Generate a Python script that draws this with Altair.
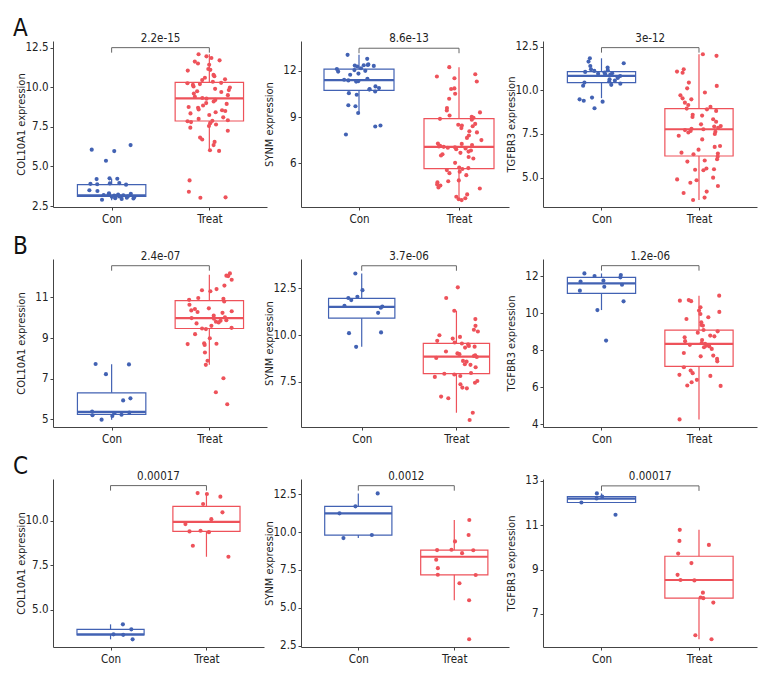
import altair as alt
import pandas as pd

FONT = "DejaVu Sans Condensed, Liberation Sans Narrow, sans-serif"
BLUE_PT, RED_PT = "#23469c", "#e8202a"
BLUE_LN, RED_LN = "#4262b3", "#ee525a"

GROUPS = ["Con", "Treat"]
GENES = ["COL10A1", "SYNM", "TGFBR3"]
LETTERS = ["A", "B", "C"]

# ---------------- Dataset A ----------------
A_COL10A1_con = [6.35, 6.06, 5.97, 5.36, 4.25, 4.22, 4.2, 3.95, 3.93, 3.9, 3.88, 3.85, 3.5, 3.45, 3.3, 3.28,
                 3.25, 3.22, 3.2, 3.18, 3.17, 3.15, 3.13, 3.12, 3.1, 3.08, 3.05, 3.02, 3.0, 2.98, 2.95, 2.9]
A_COL10A1_treat = [12.08, 11.95, 11.85, 11.7, 11.62, 11.5, 11.42, 11.15, 11.1, 11.05, 10.78, 10.7, 10.6, 10.5,
                   10.45, 10.35, 10.28, 10.25, 10.2, 10.15, 10.05, 9.98, 9.9, 9.82, 9.75, 9.7, 9.6, 9.5, 9.4,
                   9.32, 9.28, 9.2, 9.1, 9.0, 8.95, 8.85, 8.75, 8.7, 8.6, 8.55, 8.5, 8.42, 8.35, 8.25, 8.1, 8.0,
                   7.92, 7.88, 7.85, 7.8, 7.72, 7.65, 7.55, 7.45, 7.25, 6.82, 6.7, 6.55, 6.35, 6.02, 5.98, 4.12,
                   3.4, 3.05, 3.02]
A_SYNM_con = [13.04, 12.78, 12.42, 12.38, 12.36, 12.34, 12.32, 12.28, 12.17, 12.12, 12.05, 12.0, 11.95, 11.82,
              11.75, 11.48, 11.42, 11.38, 11.32, 11.3, 10.99, 10.88, 10.82, 10.78, 10.66, 10.55, 10.45, 9.76,
              9.7, 9.26, 8.45, 8.38, 7.86]
A_SYNM_treat = [12.24, 11.78, 11.63, 11.52, 11.31, 10.86, 10.82, 10.51, 10.19, 9.58, 9.42, 9.3, 9.1, 9.02, 8.95,
                8.88, 8.82, 8.55, 8.5, 8.45, 8.4, 8.28, 8.07, 8.0, 7.8, 7.64, 7.5, 7.28, 7.25, 7.18, 7.12, 7.08,
                7.06, 7.03, 7.0, 6.95, 6.9, 6.82, 6.75, 6.67, 6.58, 6.5, 6.4, 6.3, 6.02, 5.72, 5.68, 5.62, 5.55,
                5.44, 5.35, 5.22, 4.88, 4.82, 4.75, 4.62, 4.55, 4.42, 4.35, 3.97, 3.82, 3.72, 3.65, 3.6]
A_TGFBR3_con = [11.83, 11.64, 11.55, 11.39, 11.3, 11.2, 11.15, 11.11, 11.05, 11.02, 10.98, 10.95, 10.92, 10.88,
                10.82, 10.75, 10.7, 10.63, 10.55, 10.5, 10.44, 10.38, 10.31, 10.26, 9.58, 9.48, 9.4, 9.35, 8.97]
A_TGFBR3_treat = [12.06, 11.97, 11.2, 11.07, 11.0, 10.44, 10.25, 10.11, 9.87, 9.71, 9.54, 9.48, 9.29, 9.16, 9.05,
                  8.95, 8.91, 8.82, 8.6, 8.55, 8.47, 8.34, 8.2, 8.05, 7.95, 7.92, 7.85, 7.8, 7.77, 7.72, 7.67,
                  7.62, 7.58, 7.5, 7.4, 7.19, 6.81, 6.76, 6.6, 6.43, 6.38, 6.34, 6.2, 6.05, 5.98, 5.92, 5.52,
                  5.48, 5.45, 5.42, 5.0, 4.9, 4.85, 4.71, 4.52, 4.2, 4.12, 3.86, 3.72]

# ---------------- Dataset B ----------------
B_COL10A1_con = [7.72, 7.7, 7.22, 6.03, 5.93, 5.38, 5.33, 5.3, 5.22, 5.2, 5.16, 4.98]
B_COL10A1_treat = [12.18, 12.07, 12.05, 11.87, 11.58, 11.41, 11.35, 11.3, 10.97, 10.93, 10.88, 10.8, 10.64,
                   10.46, 10.43, 10.36, 10.32, 10.28, 10.24, 10.1, 10.02, 9.98, 9.95, 9.88, 9.85, 9.8, 9.77,
                   9.72, 9.6, 9.5, 9.47, 9.44, 9.19, 8.99, 8.74, 8.72, 8.7, 8.66, 8.29, 7.88, 7.68, 7.02,
                   6.33, 5.74]
B_SYNM_con = [13.28, 12.39, 12.04, 11.97, 11.86, 11.56, 11.52, 11.45, 11.18, 10.14, 10.1, 9.37]
B_SYNM_treat = [12.54, 11.97, 11.29, 10.85, 10.49, 10.28, 10.19, 9.99, 9.9, 9.81, 9.69, 9.6, 9.55, 9.5, 9.42,
                9.38, 9.33, 9.12, 9.02, 8.98, 8.92, 8.88, 8.83, 8.78, 8.62, 8.58, 8.44, 8.41, 8.28, 7.98,
                7.94, 7.9, 7.82, 7.77, 7.55, 7.46, 7.38, 7.2, 7.16, 6.72, 6.63, 5.86, 5.47]
B_TGFBR3_con = [12.16, 12.07, 12.02, 11.95, 11.77, 11.72, 11.55, 11.44, 11.23, 10.65, 10.18, 8.53]
B_TGFBR3_treat = [10.96, 10.72, 10.69, 10.66, 10.33, 10.15, 10.08, 9.97, 9.79, 9.7, 9.52, 9.37, 9.34, 9.1,
                  9.03, 8.96, 8.8, 8.76, 8.71, 8.56, 8.5, 8.4, 8.36, 8.3, 8.26, 8.22, 8.17, 8.08, 7.86, 7.72,
                  7.68, 7.54, 7.41, 7.09, 6.91, 6.77, 6.68, 6.62, 6.41, 6.28, 6.1, 6.08, 4.27]

# ---------------- Dataset C ----------------
C_COL10A1_con = [4.19, 3.91, 3.63, 3.6, 3.35]
C_COL10A1_treat = [11.55, 11.5, 11.35, 10.94, 10.47, 10.09, 9.81, 9.44, 9.4, 9.36, 8.6, 7.98]
C_SYNM_con = [12.54, 11.69, 11.23, 9.8, 9.6]
C_SYNM_treat = [10.79, 9.8, 9.38, 8.83, 8.81, 8.8, 8.61, 8.17, 7.62, 7.19, 7.17, 6.63, 5.51, 2.94]
C_TGFBR3_con = [12.43, 12.29, 12.2, 12.02, 11.47]
C_TGFBR3_treat = [10.79, 10.29, 10.11, 9.72, 9.29, 8.76, 8.53, 8.51, 7.96, 7.74, 7.71, 7.51, 6.04, 5.86]

# box statistics: [lower whisker, Q1, median, Q3, upper whisker]
BOX_CON = [
    [[2.86, 3.11, 3.17, 3.85, 4.22], [9.26, 10.73, 11.4, 12.11, 13.04], [9.55, 10.44, 10.82, 11.07, 11.83]],
    [[4.98, 5.24, 5.36, 6.30, 7.71], [9.37, 10.9, 11.5, 11.95, 13.28], [10.18, 11.08, 11.62, 11.95, 12.16]],
    [[3.35, 3.6, 3.63, 3.91, 4.19], [9.6, 9.8, 11.23, 11.69, 12.54], [12.02, 12.02, 12.2, 12.29, 12.43]],
]
BOX_TREAT = [
    [[6.02, 7.87, 9.3, 10.31, 12.08], [3.7, 5.65, 7.06, 8.89, 12.24], [3.72, 6.24, 7.77, 8.95, 12.06]],
    [[7.68, 9.47, 9.98, 10.84, 12.12], [5.86, 7.94, 8.85, 9.55, 11.29], [4.27, 7.14, 8.35, 9.1, 10.96]],
    [[7.98, 9.4, 9.94, 10.81, 11.55], [5.51, 7.18, 8.37, 8.81, 10.79], [5.86, 7.71, 8.53, 9.6, 10.79]],
]

P_VALUES = [["2.2e-15", "8.6e-13", "3e-12"],
            ["2.4e-07", "3.7e-06", "1.2e-06"],
            ["0.00017", "0.0012", "0.00017"]]
BRACKET_Y = [[12.5, 13.47, 12.44], [12.56, 13.69, 12.58], [11.97, 13.05, 12.77]]

Y_DOMAINS = [[[2.44, 12.92], [3.15, 13.94], [3.32, 12.82]],
             [[4.62, 12.89], [5.10, 14.05], [3.86, 12.94]],
             [[2.92, 12.34], [2.43, 13.49], [5.51, 13.08]]]
Y_TICKS = [[[2.5, 5.0, 7.5, 10.0, 12.5], [6, 9, 12], [5.0, 7.5, 10.0, 12.5]],
           [[5, 7, 9, 11], [7.5, 10.0, 12.5], [4, 6, 8, 10, 12]],
           [[5.0, 7.5, 10.0], [2.5, 5.0, 7.5, 10.0, 12.5], [7, 9, 11, 13]]]
Y_FORMATS = [[".1f", "d", ".1f"], ["d", ".1f", "d"], [".1f", ".1f", "d"]]

DATA = [
    [(A_COL10A1_con, A_COL10A1_treat), (A_SYNM_con, A_SYNM_treat), (A_TGFBR3_con, A_TGFBR3_treat)],
    [(B_COL10A1_con, B_COL10A1_treat), (B_SYNM_con, B_SYNM_treat), (B_TGFBR3_con, B_TGFBR3_treat)],
    [(C_COL10A1_con, C_COL10A1_treat), (C_SYNM_con, C_SYNM_treat), (C_TGFBR3_con, C_TGFBR3_treat)],
]

# layout (x-domain per panel, pixel sizes)
X_DOMAINS = [[[-0.6, 1.59], [-0.58, 1.50], [-0.6, 1.595]],
             [[-0.6, 1.59], [-0.641, 1.555], [-0.6, 1.595]],
             [[-0.6, 1.60], [-0.597, 1.57], [-0.6, 1.595]]]
WIDTHS = [[214, 208, 214], [214, 208, 214], [211, 208, 214]]
HEIGHTS = [166, 168, 168]

color_pt = alt.Scale(domain=GROUPS, range=[BLUE_PT, RED_PT])
color_ln = alt.Scale(domain=GROUPS, range=[BLUE_LN, RED_LN])


def panel(r, c):
    con, treat = DATA[r][c]
    pts = pd.DataFrame({"group": ["Con"] * len(con) + ["Treat"] * len(treat),
                        "value": con + treat})
    bc, bt = BOX_CON[r][c], BOX_TREAT[r][c]
    box = pd.DataFrame({
        "group": GROUPS,
        "lo": [bc[0], bt[0]], "q1": [bc[1], bt[1]], "med": [bc[2], bt[2]],
        "q3": [bc[3], bt[3]], "hi": [bc[4], bt[4]],
    })
    br = pd.DataFrame({"a": [0], "b": [1], "m": [0.5], "y": [BRACKET_Y[r][c]], "label": [P_VALUES[r][c]]})
    ends = pd.DataFrame({"x": [0, 1], "y": [BRACKET_Y[r][c]] * 2})

    xs = alt.Scale(domain=X_DOMAINS[r][c], nice=False, zero=False)
    ys = alt.Scale(domain=Y_DOMAINS[r][c], nice=False, zero=False)
    xaxis = alt.Axis(values=[0, 1], labelExpr="datum.value == 0 ? 'Con' : 'Treat'", title=None,
                     grid=False, tickSize=3, labelPadding=3, domainColor="#444", tickColor="#444",
                     labelColor="#222", labelFontSize=11.5, labelFont=FONT)
    yaxis = alt.Axis(values=Y_TICKS[r][c], format=Y_FORMATS[r][c], title=f"{GENES[c]} expression",
                     grid=False, tickSize=3, labelPadding=2, titlePadding=1, minExtent=26, maxExtent=26,
                     domainColor="#444", tickColor="#444", labelColor="#222", labelFontSize=11.5,
                     labelFont=FONT, titleFont=FONT, titleFontSize=11, titleFontWeight="normal",
                     titleColor="#222")

    bbase = alt.Chart(box).transform_calculate(
        idx="datum.group == 'Con' ? 0 : 1",
        xl="datum.group == 'Con' ? -0.35 : 0.65",
        xr="datum.group == 'Con' ? 0.35 : 1.35",
    )
    whisk_lo = bbase.mark_rule(strokeWidth=1.2).encode(
        x=alt.X("idx:Q", scale=xs, axis=xaxis), y=alt.Y("lo:Q", scale=ys, axis=yaxis), y2="q1:Q",
        color=alt.Color("group:N", scale=color_ln, legend=None))
    whisk_hi = bbase.mark_rule(strokeWidth=1.2).encode(
        x=alt.X("idx:Q", scale=xs), y=alt.Y("q3:Q", scale=ys), y2="hi:Q",
        color=alt.Color("group:N", scale=color_ln, legend=None))
    rect = bbase.mark_rect(fill="white", strokeWidth=1.2, fillOpacity=0).encode(
        x=alt.X("xl:Q", scale=xs), x2="xr:Q", y=alt.Y("q1:Q", scale=ys), y2="q3:Q",
        stroke=alt.Stroke("group:N", scale=color_ln, legend=None))
    med = bbase.mark_rule(strokeWidth=2.2).encode(
        x=alt.X("xl:Q", scale=xs), x2="xr:Q", y=alt.Y("med:Q", scale=ys),
        color=alt.Color("group:N", scale=color_pt, legend=None))

    # horizontal jitter (presentation only), deterministic
    points = alt.Chart(pts).transform_window(
        rn="row_number()", groupby=["group"]
    ).transform_calculate(
        gi="datum.group == 'Con' ? 0 : 1"
    ).transform_calculate(
        fr="abs(sin(datum.rn * 12.9898 + datum.gi * 78.233 + %d) * 43758.5453) %% 1" % (r * 3 + c)
    ).transform_calculate(
        xj="datum.gi + (datum.fr - 0.5) * 0.46"
    ).mark_circle(size=17, opacity=1).encode(
        x=alt.X("xj:Q", scale=xs), y=alt.Y("value:Q", scale=ys),
        color=alt.Color("group:N", scale=color_pt, legend=None))

    hbar = alt.Chart(br).mark_rule(color="#666", strokeWidth=1).encode(
        x=alt.X("a:Q", scale=xs), x2="b:Q", y=alt.Y("y:Q", scale=ys))
    vbar = alt.Chart(ends).mark_rule(color="#666", strokeWidth=1, y2Offset=5).encode(
        x=alt.X("x:Q", scale=xs), y=alt.Y("y:Q", scale=ys), y2="y:Q")
    ptxt = alt.Chart(br).mark_text(dy=-9, fontSize=11.5, font=FONT, color="#222").encode(
        x=alt.X("m:Q", scale=xs), y=alt.Y("y:Q", scale=ys), text="label:N")

    layers = [rect, whisk_lo, whisk_hi, med, points, hbar, vbar, ptxt]
    if c == 0:
        lab = alt.Chart(pd.DataFrame({"t": [LETTERS[r]]})).mark_text(
            align="left", baseline="middle", fontSize=24, font=FONT, color="#111", x=-40, y=-12
        ).encode(text="t:N")
        layers.append(lab)
    return alt.layer(*layers).properties(width=WIDTHS[r][c], height=HEIGHTS[r])


charts = [panel(r, c) for r in range(3) for c in range(3)]
chart = alt.concat(*charts, columns=3, spacing={"row": 52, "column": 34},
                   bounds="flush", align="each").properties(
    padding={"left": 5, "top": 9, "right": 5, "bottom": 5}
).configure_view(stroke=None)

chart.save("out.html", embed_options={"renderer": "svg", "actions": False})
